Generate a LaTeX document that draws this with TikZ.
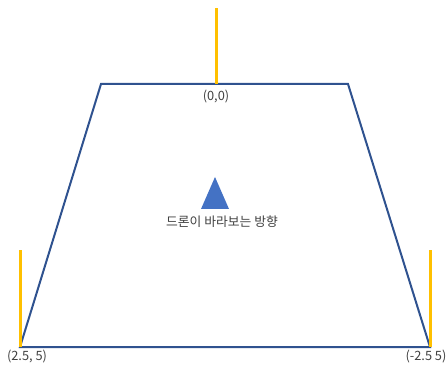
\documentclass[tikz,border=0pt]{standalone}
\usepackage{fontspec}
\setmainfont{Noto Sans CJK KR}
\usetikzlibrary{positioning}
\definecolor{edgeblue}{HTML}{2F528F}
\definecolor{poleorange}{HTML}{FFC000}
\definecolor{headblue}{HTML}{4472C4}
\definecolor{labelgray}{HTML}{404040}

\begin{document}
\begin{tikzpicture}[
  x=1pt, y=-1pt,
  font=\fontsize{12.8}{15}\selectfont,
  frame/.style={draw=edgeblue, line width=2pt, line join=miter},
  pole/.style={draw=poleorange, line width=3pt},
  coordlabel/.style={text=labelgray, inner sep=0pt}
]
\useasboundingbox (0,0) rectangle (448,369);

% corners of the field of view
\coordinate (tl) at (101,84);
\coordinate (tr) at (348,84);
\coordinate (br) at (430,347);
\coordinate (bl) at (20,347);
\coordinate (mid) at (216,84);

% tops of the poles
\coordinate (midtop) at (216,8);
\coordinate (bltop) at (20,250);
\coordinate (brtop) at (430,250);

\draw[frame] (tl) -- (tr) -- (br) -- (bl) -- cycle;

\draw[pole] (mid) -- (midtop);
\draw[pole] (bl) -- (bltop);
\draw[pole] (br) -- (brtop);

\node[coordlabel] (lblmid) at (216,97) {(0,0)};
\node[coordlabel] (lblbl) at (27,357) {(2.5, 5)};
\node[coordlabel] (lblbr) at (426,357) {(-2.5 5)};

% heading marker
\coordinate (apex) at (215,177);
\coordinate (baseL) at (201,209);
\coordinate (baseR) at (229,209);
\fill[headblue] (apex) -- (baseR) -- (baseL) -- cycle;
\node[coordlabel] (heading) at (222,222) {드론이 바라보는 방향};
\end{tikzpicture}
\end{document}
